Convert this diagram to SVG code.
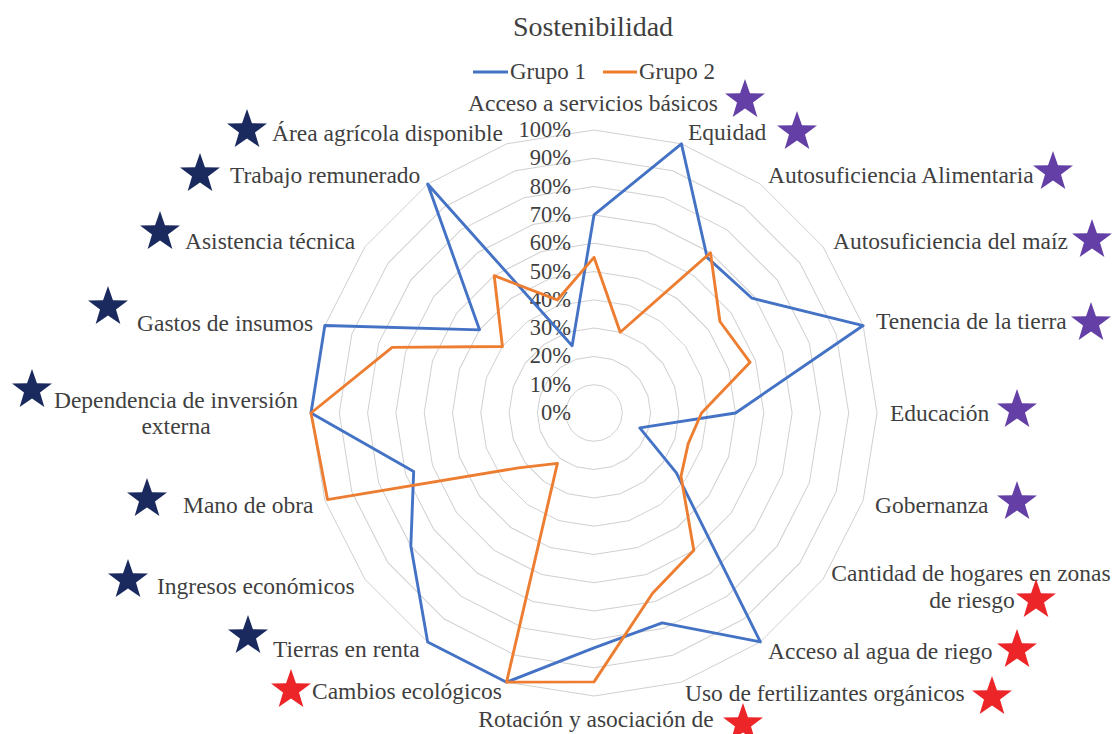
<svg xmlns="http://www.w3.org/2000/svg" xmlns:xlink="http://www.w3.org/1999/xlink" width="1114" height="734" viewBox="0 0 1114 734">
<style>
text{font-family:"Liberation Serif","Times New Roman",serif;fill:#3f3f3f}
.lbl{font-size:23.5px}
.leg{font-size:23px}
.pct{font-size:22.5px;text-anchor:end}
.title{font-size:28px;text-anchor:middle}
.s-navy{fill:#1b2a5e}
.s-purple{fill:#6440a6}
.s-red{fill:#ec2528}
.ring{fill:none;stroke:#d0d0d0}
.series{fill:none;stroke-linejoin:round;stroke-width:1.02}
</style>
<defs>
<polygon id="ring" points="0,-1 0.309,-0.9511 0.5878,-0.809 0.809,-0.5878 0.9511,-0.309 1,0 0.9511,0.309 0.809,0.5878 0.5878,0.809 0.309,0.9511 0,1 -0.309,0.9511 -0.5878,0.809 -0.809,0.5878 -0.9511,0.309 -1,0 -0.9511,-0.309 -0.809,-0.5878 -0.5878,-0.809 -0.309,-0.9511"/>
<path id="star" d="M0,-21 L4.94,-6.79 L19.97,-6.49 L7.99,2.59 L12.35,16.99 L0,8.4 L-12.35,16.99 L-7.99,2.59 L-19.97,-6.49 L-4.94,-6.79 Z"/>
</defs>
<rect width="1114" height="734" fill="#ffffff"/>
<g id="title"><text class="title" x="593" y="36">Sostenibilidad</text></g>
<g id="legend">
<line x1="473" y1="72" x2="508" y2="72" stroke="#4472c4" stroke-width="2.8"/>
<text class="leg" x="510" y="79">Grupo 1</text>
<line x1="603" y1="72" x2="637" y2="72" stroke="#ed7d31" stroke-width="2.8"/>
<text class="leg" x="639" y="79">Grupo 2</text>
</g>
<g id="grid" class="ring">
<use xlink:href="#ring" href="#ring" transform="translate(594 413) scale(28.3)" stroke-width="0.0353"/>
<use xlink:href="#ring" href="#ring" transform="translate(594 413) scale(56.6)" stroke-width="0.01767"/>
<use xlink:href="#ring" href="#ring" transform="translate(594 413) scale(84.9)" stroke-width="0.01178"/>
<use xlink:href="#ring" href="#ring" transform="translate(594 413) scale(113.2)" stroke-width="0.00883"/>
<use xlink:href="#ring" href="#ring" transform="translate(594 413) scale(141.5)" stroke-width="0.00707"/>
<use xlink:href="#ring" href="#ring" transform="translate(594 413) scale(169.8)" stroke-width="0.00589"/>
<use xlink:href="#ring" href="#ring" transform="translate(594 413) scale(198.1)" stroke-width="0.00505"/>
<use xlink:href="#ring" href="#ring" transform="translate(594 413) scale(226.4)" stroke-width="0.00442"/>
<use xlink:href="#ring" href="#ring" transform="translate(594 413) scale(254.7)" stroke-width="0.00393"/>
<use xlink:href="#ring" href="#ring" transform="translate(594 413) scale(283)" stroke-width="0.00353"/>
</g>
<g id="scale-labels">
<text class="pct" x="571" y="137">100%</text>
<text class="pct" x="571" y="165.3">90%</text>
<text class="pct" x="571" y="193.6">80%</text>
<text class="pct" x="571" y="221.9">70%</text>
<text class="pct" x="571" y="250.2">60%</text>
<text class="pct" x="571" y="278.5">50%</text>
<text class="pct" x="571" y="306.8">40%</text>
<text class="pct" x="571" y="335.1">30%</text>
<text class="pct" x="571" y="363.4">20%</text>
<text class="pct" x="571" y="391.7">10%</text>
<text class="pct" x="571" y="420">0%</text>
</g>
<g id="connectors" transform="translate(594 413) scale(2.83)">
<polygon id="grupo1" class="series" stroke="#4472c4" points="0,-70 30.9,-95.11 39.97,-55.01 55.82,-40.56 95.11,-30.9 50,0 16.17,5.25 29.12,21.16 58.78,80.9 24.1,74.19 0,83 -30.9,95.11 -58.78,80.9 -64.72,47.02 -63.72,20.7 -100,0 -95.11,-30.9 -40.45,-29.39 -58.78,-80.9 -7.73,-23.78"/>
<polygon id="grupo2" class="series" stroke="#ed7d31" points="0,-55 9.27,-28.53 41.15,-56.63 44.5,-32.33 55.16,-17.92 38,0 33.29,10.82 30.74,22.34 35.27,48.54 20.7,63.72 0,95 -30.9,95.11 -12.93,17.8 -26.7,19.4 -94.16,30.59 -100,0 -71.33,-23.18 -32.36,-23.51 -35.27,-48.54 -12.98,-39.95"/>
</g>
<g id="n-acceso-servicios"><text class="lbl" x="593" y="111" text-anchor="middle">Acceso a servicios básicos</text><use href="#star" class="s-purple" x="745" y="100"/></g>
<g id="n-equidad"><text class="lbl" x="688" y="140">Equidad</text><use href="#star" class="s-purple" x="797" y="132"/></g>
<g id="n-autosuf-alim"><text class="lbl" x="768" y="183">Autosuficiencia Alimentaria</text><use href="#star" class="s-purple" x="1053" y="172"/></g>
<g id="n-autosuf-maiz"><text class="lbl" x="833" y="249">Autosuficiencia del maíz</text><use href="#star" class="s-purple" x="1092" y="240"/></g>
<g id="n-tenencia"><text class="lbl" x="876" y="329">Tenencia de la tierra</text><use href="#star" class="s-purple" x="1091" y="323"/></g>
<g id="n-educacion"><text class="lbl" x="890" y="421">Educación</text><use href="#star" class="s-purple" x="1017" y="410"/></g>
<g id="n-gobernanza"><text class="lbl" x="875" y="513">Gobernanza</text><use href="#star" class="s-purple" x="1017" y="502"/></g>
<g id="n-hogares-riesgo"><text class="lbl" text-anchor="middle"><tspan x="971" y="581">Cantidad de hogares en zonas</tspan><tspan x="972" y="608">de riesgo</tspan></text><use href="#star" class="s-red" x="1036" y="600"/></g>
<g id="n-agua-riego"><text class="lbl" x="768" y="659">Acceso al agua de riego</text><use href="#star" class="s-red" x="1017" y="650"/></g>
<g id="n-fertilizantes"><text class="lbl" x="685" y="701">Uso de fertilizantes orgánicos</text><use href="#star" class="s-red" x="992" y="697"/></g>
<g id="n-rotacion"><text class="lbl" x="596" y="727" text-anchor="middle">Rotación y asociación de</text><use href="#star" class="s-red" x="743" y="724"/></g>
<g id="n-cambios"><text class="lbl" x="312" y="699">Cambios ecológicos</text><use href="#star" class="s-red" x="291" y="690"/></g>
<g id="n-tierras-renta"><text class="lbl" x="273" y="657">Tierras en renta</text><use href="#star" class="s-navy" x="248" y="636"/></g>
<g id="n-ingresos"><text class="lbl" x="157" y="594">Ingresos económicos</text><use href="#star" class="s-navy" x="128" y="580"/></g>
<g id="n-mano-obra"><text class="lbl" x="183" y="513">Mano de obra</text><use href="#star" class="s-navy" x="147" y="499"/></g>
<g id="n-dependencia"><text class="lbl" text-anchor="middle"><tspan x="176" y="408">Dependencia de inversión</tspan><tspan x="176" y="434">externa</tspan></text><use href="#star" class="s-navy" x="32" y="390"/></g>
<g id="n-gastos"><text class="lbl" x="137" y="331">Gastos de insumos</text><use href="#star" class="s-navy" x="108" y="307"/></g>
<g id="n-asistencia"><text class="lbl" x="185" y="249">Asistencia técnica</text><use href="#star" class="s-navy" x="160" y="232"/></g>
<g id="n-trabajo"><text class="lbl" x="230" y="183">Trabajo remunerado</text><use href="#star" class="s-navy" x="200" y="174"/></g>
<g id="n-area"><text class="lbl" x="272" y="141">Área agrícola disponible</text><use href="#star" class="s-navy" x="247" y="130"/></g>
</svg>
